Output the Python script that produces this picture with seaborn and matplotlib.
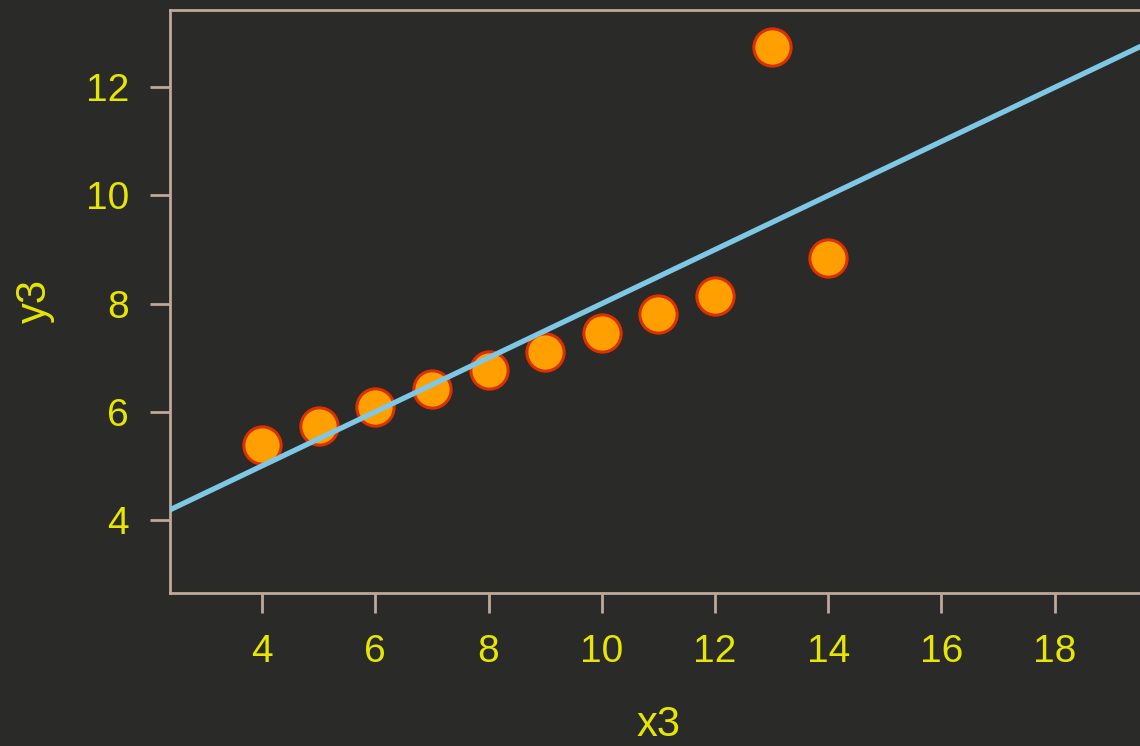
import numpy as np
import pandas as pd
import matplotlib
matplotlib.use("Agg")
import matplotlib.pyplot as plt
import seaborn as sns

# Anscombe's quartet, dataset III
x3 = [10, 8, 13, 9, 11, 14, 6, 4, 12, 7, 5]
y3 = [7.46, 6.77, 12.74, 7.11, 7.81, 8.84, 6.08, 5.39, 8.15, 6.42, 5.73]
x_ticks = [4, 6, 8, 10, 12, 14, 16, 18]
y_ticks = [4, 6, 8, 10, 12]

df = pd.DataFrame({"x3": x3, "y3": y3})

bg = "#2a2a28"
spine_col = "#bfa898"
label_col = "#e6e600"

sns.set_theme(style="dark")
plt.rcParams["font.family"] = ["Liberation Sans", "DejaVu Sans"]

fig = plt.figure(figsize=(11.4, 7.46), dpi=100, facecolor=bg)
ax = fig.add_axes([0.149, 0.2051, 0.858, 0.7815])
ax.set_facecolor(bg)
ax.set_xlim(2.37, 19.65)
ax.set_ylim(2.65, 13.43)

sns.scatterplot(data=df, x="x3", y="y3", ax=ax, s=720, color="#ffa000",
                edgecolor="#dc3000", linewidth=2.2, zorder=3)
sns.regplot(data=df, x="x3", y="y3", ax=ax, scatter=False, ci=None,
            truncate=False, line_kws={"color": "#7ec8e6", "linewidth": 3.8,
                                      "zorder": 4})
ax.set_xlim(2.37, 19.65)
ax.set_ylim(2.65, 13.43)

ax.set_xticks(x_ticks)
ax.set_yticks(y_ticks)
ax.grid(False)
for side in ["left", "bottom", "top"]:
    ax.spines[side].set_visible(True)
    ax.spines[side].set_color(spine_col)
    ax.spines[side].set_linewidth(2)
ax.spines["right"].set_visible(False)

ax.tick_params(axis="both", colors=spine_col, length=14.5, width=2,
               labelcolor=label_col, labelsize=28, direction="out")
ax.tick_params(axis="x", pad=15, bottom=True)
ax.tick_params(axis="y", pad=15, left=True)

ax.set_xlabel("x3", color=label_col, fontsize=30, labelpad=25)
ax.set_ylabel("y3", color=label_col, fontsize=30, labelpad=22)

fig.savefig("out.png", dpi=100, facecolor=bg)
